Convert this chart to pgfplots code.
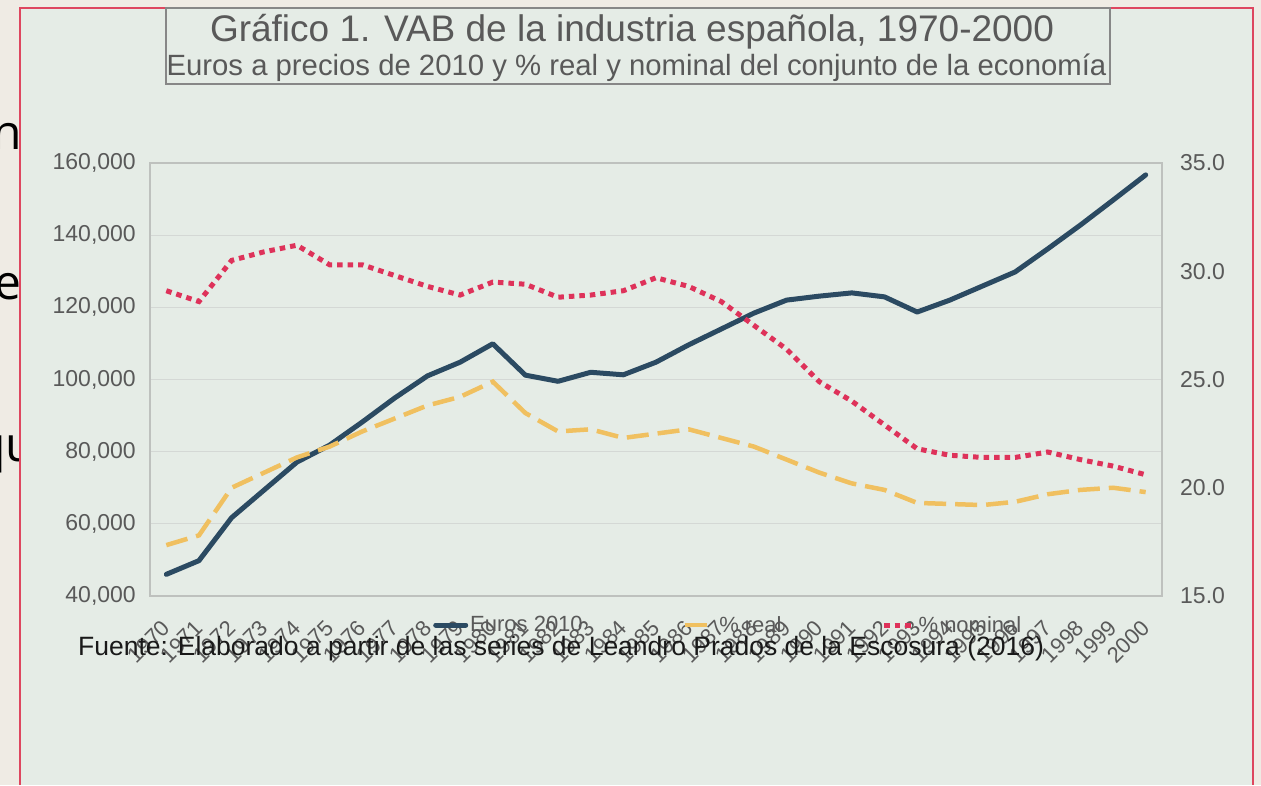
\documentclass[border=0pt]{standalone}
\usepackage{fontspec}
\setmainfont{Liberation Sans}
\newfontfamily\slidefont{Open Sans}
\usepackage{pgfplots}
\pgfplotsset{compat=1.18}
\definecolor{panelbg}{RGB}{229,236,230}
\definecolor{outerbg}{RGB}{239,235,228}
\definecolor{bordred}{RGB}{222,70,95}
\definecolor{txtgray}{RGB}{89,89,89}
\definecolor{gridgray}{RGB}{212,216,213}
\definecolor{framegray}{RGB}{190,193,190}
\definecolor{boxgray}{RGB}{135,135,135}
\definecolor{euroblue}{RGB}{43,74,98}
\definecolor{realyellow}{RGB}{240,192,96}
\definecolor{nomred}{RGB}{222,50,90}

\pgfplotstableread{
year euros
1970 46000
1971 49800
1972 61700
1973 69400
1974 77100
1975 81800
1976 88200
1977 94900
1978 101000
1979 104800
1980 109900
1981 101200
1982 99500
1983 102000
1984 101300
1985 104800
1986 109600
1987 114000
1988 118400
1989 122000
1990 123100
1991 124000
1992 122900
1993 118700
1994 122000
1995 125900
1996 129800
1997 136200
1998 142800
1999 149700
2000 156700
}\euros

\pgfplotstableread{
year real nominal
1970 17.35 29.1
1971 17.8 28.6
1972 20.0 30.5
1973 20.7 30.9
1974 21.4 31.2
1975 21.9 30.3
1976 22.6 30.3
1977 23.2 29.8
1978 23.8 29.3
1979 24.2 28.9
1980 24.9 29.5
1981 23.45 29.4
1982 22.6 28.8
1983 22.7 28.9
1984 22.3 29.1
1985 22.5 29.7
1986 22.7 29.3
1987 22.3 28.6
1988 21.9 27.5
1989 21.3 26.4
1990 20.7 24.9
1991 20.2 24.0
1992 19.9 22.9
1993 19.3 21.8
1994 19.25 21.5
1995 19.2 21.4
1996 19.35 21.4
1997 19.7 21.65
1998 19.9 21.3
1999 20.0 21.0
2000 19.8 20.6
}\pct

\tikzset{
  eurostyle/.style={euroblue, line width=5pt, line join=round, line cap=round},
  realstyle/.style={realyellow, line width=4.5pt, dash pattern=on 22pt off 9pt},
  nomstyle/.style={nomred, line width=5pt, dash pattern=on 5.5pt off 5pt},
}

\pgfplotsset{
  commonaxis/.style={
    at={(150pt,189pt)}, anchor=south west,
    scale only axis, width=1012pt, height=433pt,
    xmin=1969.5, xmax=2000.5,
    major tick length=0pt,
    scaled y ticks=false,
    clip=false,
  }
}

\begin{document}
\begin{tikzpicture}[x=1pt,y=1pt]
\fill[outerbg] (0,0) rectangle (1261,785);
\fill[panelbg] (20,0) rectangle (1253,777);
\begin{scope}
\clip (0,0) rectangle (20,785);
\node[anchor=base east, inner sep=0pt, font=\slidefont\fontsize{48}{50}\selectfont] at (22,635) {n};
\node[anchor=base east, inner sep=0pt, font=\slidefont\fontsize{48}{50}\selectfont] at (22,485) {e};
\node[anchor=base west, inner sep=0pt, font=\slidefont\fontsize{48}{50}\selectfont] at (-24,323) {qu};
\end{scope}
\draw[bordred, line width=2.5pt] (20,0) -- (20,777) -- (1253,777) -- (1253,0);

% title box
\draw[boxgray, line width=2pt] (166,701) rectangle (1110,777);
\node[anchor=base, inner sep=0pt, text=txtgray, font=\fontsize{37}{40}\selectfont] at (632,743) {Gráfico 1. VAB de la industria española, 1970-2000};
\node[anchor=base, inner sep=0pt, text=txtgray, font=\fontsize{29.3}{32}\selectfont] at (636.5,709) {Euros a precios de 2010 y \% real y nominal del conjunto de la economía};

\begin{axis}[commonaxis,
  ymin=40000, ymax=160000,
  ytick={40000,60000,80000,100000,120000,140000,160000},
  yticklabels={{40,000},{60,000},{80,000},{100,000},{120,000},{140,000},{160,000}},
  xtick={1970,1971,...,2000},
  xticklabels={1970,1971,1972,1973,1974,1975,1976,1977,1978,1979,1980,1981,1982,1983,1984,1985,1986,1987,1988,1989,1990,1991,1992,1993,1994,1995,1996,1997,1998,1999,2000},
  ymajorgrids, grid style={gridgray, line width=1.3pt},
  axis line style={framegray, line width=1.6pt},
  yticklabel style={inner sep=0pt, xshift=-14pt, text=txtgray, font=\fontsize{23}{26}\selectfont},
  xticklabel style={inner sep=0pt, yshift=-28pt, rotate=45, anchor=east, text=txtgray, font=\fontsize{22}{24}\selectfont},
]
\addplot[eurostyle] table[x=year, y=euros] {\euros};
\end{axis}

\begin{axis}[commonaxis,
  ymin=15, ymax=35,
  ytick={15,20,25,30,35},
  yticklabels={15.0,20.0,25.0,30.0,35.0},
  axis x line=none,
  axis y line*=right,
  axis line style={draw=none},
  yticklabel style={inner sep=0pt, xshift=18pt, anchor=west, text=txtgray, font=\fontsize{23}{26}\selectfont},
  legend columns=3,
  legend image code/.code={\draw[#1] (0pt,0pt) -- (30pt,0pt);},
  legend style={at={(0.2767,-0.067)}, anchor=west, draw=none, fill=none,
    font=\fontsize{22}{24}\selectfont, text=txtgray,
    /tikz/every even column/.append style={column sep=98pt}},
]
\addlegendimage{eurostyle}
\addlegendentry{Euros 2010}
\addplot[realstyle] table[x=year, y=real] {\pct};
\addlegendentry{\% real}
\addplot[nomstyle] table[x=year, y=nominal] {\pct};
\addlegendentry{\% nominal}
\end{axis}

\node[anchor=base west, inner sep=0pt, text=black!90, font=\fontsize{26.5}{28}\selectfont] at (78,130) {Fuente: Elaborado a partir de las series de Leandro Prados de la Escosura (2016)};

\pgfresetboundingbox
\useasboundingbox (0,0) rectangle (1261,785);
\end{tikzpicture}
\end{document}
